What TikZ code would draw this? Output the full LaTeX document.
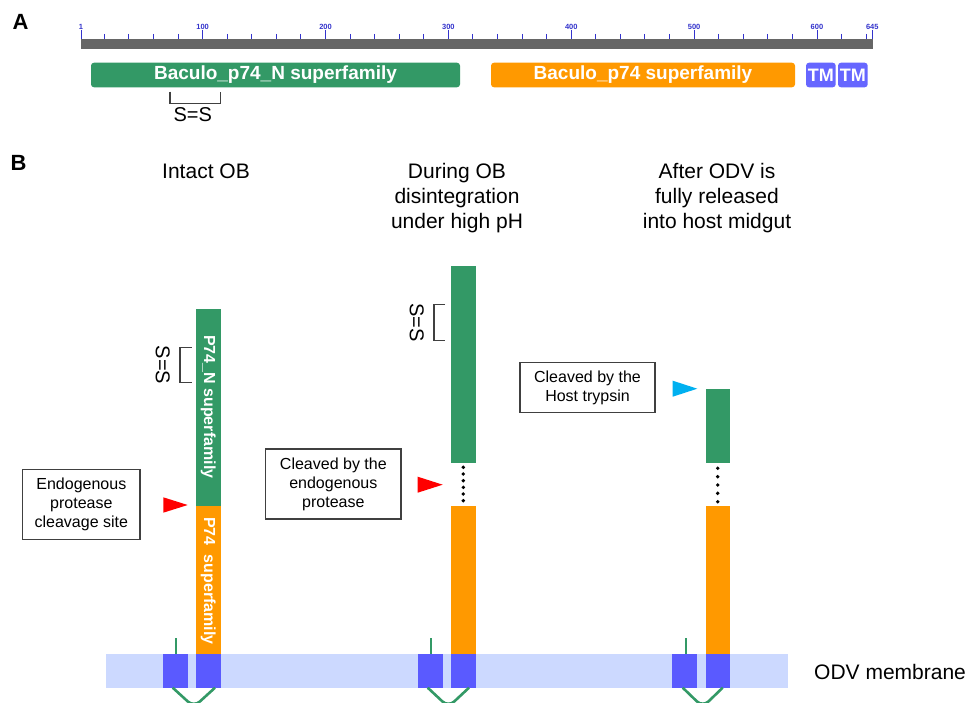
\documentclass[tikz,border=0pt]{standalone}
\usepackage{fontspec}
\setmainfont{Liberation Sans}
\definecolor{pgreen}{RGB}{51,153,102}
\definecolor{porange}{RGB}{255,153,0}
\definecolor{tmblue}{RGB}{102,102,255}
\definecolor{memblue}{RGB}{90,90,255}
\definecolor{memband}{RGB}{204,217,255}
\definecolor{rulergray}{RGB}{102,102,102}
\definecolor{tickblue}{RGB}{51,51,204}
\definecolor{cyanarrow}{RGB}{0,176,240}
\definecolor{darkline}{RGB}{64,64,64}
\newcommand\myfs[2]{\fontsize{#1}{#2}\selectfont}
\begin{document}
\begin{tikzpicture}[x=1pt,y=-1pt,
  tick/.style={draw=tickblue,line width=1pt},
  ticklab/.style={text=tickblue,font=\bfseries\myfs{7.5}{8},inner sep=0pt},
  dombox/.style={rounded corners=3pt},
  domlab/.style={text=white,font=\bfseries\myfs{19}{22},inner sep=0pt},
  tmlab/.style={text=white,font=\bfseries\myfs{18}{22},inner sep=0pt},
  bracketline/.style={draw=darkline,line width=1.2pt},
  sslab/.style={font=\myfs{20}{24},inner sep=0pt},
  heading/.style={font=\myfs{21}{25},align=center,inner sep=0pt},
  infobox/.style={draw=darkline,line width=1.2pt,fill=white,align=center,inner sep=0pt,font=\myfs{16}{19}},
  barlab/.style={text=white,font=\bfseries\myfs{16}{19},inner sep=0pt,rotate=-90,anchor=west},
  stub/.style={draw=pgreen,line width=2.4pt},
  loopline/.style={draw=pgreen,line width=2.6pt,rounded corners=8pt},
  panel/.style={font=\bfseries\myfs{22}{26},inner sep=0pt},
  dotc/.style={fill=black}
]
\useasboundingbox (0,0) rectangle (971,703);
\fill[white] (0,0) rectangle (971,703);

% ---------------- Panel A ----------------
\node[panel] (labA) at (20.5,21.5) {A};
\fill[rulergray] (81,39) rectangle (873,49);
\foreach \r in {20,40,...,640} {
  \pgfmathsetmacro\xx{81+(\r-1)*1.2287}
  \draw[tick] (\xx,34) -- (\xx,39);
}
\foreach \r in {1,100,200,300,400,500,600,645} {
  \pgfmathsetmacro\xx{81+(\r-1)*1.2287}
  \draw[tick] (\xx,30) -- (\xx,39);
  \node[ticklab] (t\r) at (\xx,26.5) {\r};
}
\fill[pgreen,dombox] (91,62.7) rectangle (460,87.3);
\node[domlab] (dN) at (275.5,75) {Baculo\_p74\_N superfamily};
\fill[porange,dombox] (491,62.7) rectangle (795,87.3);
\node[domlab] (dC) at (643,75) {Baculo\_p74 superfamily};
\fill[tmblue,dombox] (806,62.7) rectangle (835.7,87.3);
\node[tmlab] (tm1) at (820.85,75) {TM};
\fill[tmblue,dombox] (838,62.7) rectangle (867.7,87.3);
\node[tmlab] (tm2) at (852.85,75) {TM};
\draw[bracketline] (170,91.7) -- (170,103.3) -- (220.3,103.3) -- (220.3,91.7);
\node[sslab] (ssA) at (192.7,114.5) {S=S};

% ---------------- Panel B ----------------
\node[panel] (labB) at (18.5,163) {B};
\node[heading,anchor=north] (h1) at (206,163.5) {Intact OB};
\node[heading,anchor=north] (h2) at (457,163.5) {During OB\\disintegration\\under high pH};
\node[heading,anchor=north] (h3) at (717,163.5) {After ODV is\\fully released\\into host midgut};

% membrane band
\fill[memband] (106,654) rectangle (787.7,687.7);
\node[font=\myfs{21}{25},inner sep=0pt,anchor=west] (odv) at (814,671.7) {ODV membrane};

% column 1
\fill[pgreen] (196,309) rectangle (220.7,506);
\fill[porange] (196,506) rectangle (220.7,654);
\node[barlab] (pN1) at (208.35,335) {P74\_N superfamily};
\node[barlab] (pC1) at (208.35,517) {P74\hspace{9pt}superfamily};
\draw[bracketline] (191.7,347.3) -- (180,347.3) -- (180,382.7) -- (191.7,382.7);
\node[sslab,rotate=-90] (ss1) at (162.7,365) {S=S};
\fill[red] (163.3,497.3) -- (187.7,505) -- (163.3,512.7) -- cycle;
\node[infobox,minimum width=117.3pt,minimum height=70pt] (box1) at (81.35,504.3) {Endogenous\\protease\\cleavage site};

% column 2
\fill[pgreen] (451,266) rectangle (475.5,463.3);
\fill[porange] (451,506) rectangle (475.5,654);
\foreach \k in {0,...,5} { \fill[dotc] (463.3,467.3+\k*6.68) circle (1.9); }
\draw[bracketline] (445,304.3) -- (434,304.3) -- (434,340.7) -- (445,340.7);
\node[sslab,rotate=-90] (ss2) at (416.7,322.3) {S=S};
\fill[red] (417.7,476.7) -- (442.7,484.7) -- (417.7,492.7) -- cycle;
\node[infobox,minimum width=135.3pt,minimum height=70pt] (box2) at (333.35,484) {Cleaved by the\\endogenous\\protease};

% column 3
\fill[pgreen] (705.7,389.3) rectangle (730,463.3);
\fill[porange] (705.7,505.7) rectangle (730,654);
\foreach \k in {0,...,4} { \fill[dotc] (717.7,468.3+\k*8.35) circle (1.9); }
\fill[cyanarrow] (672.7,380.7) -- (697.3,388.7) -- (672.7,396.7) -- cycle;
\node[infobox,minimum width=135pt,minimum height=50.4pt] (box3) at (587.5,387.5) {Cleaved by the\\Host trypsin};

% transmembrane boxes, stubs and loops
\fill[memblue] (163.3,654) rectangle (187.7,687.7);
\fill[memblue] (196.3,654) rectangle (220.7,687.7);
\fill[memblue] (418.3,654) rectangle (442.7,687.7);
\fill[memblue] (451,654) rectangle (475.5,687.7);
\fill[memblue] (672.3,654) rectangle (697.3,687.7);
\fill[memblue] (705.7,654) rectangle (730,687.7);
\draw[stub] (176,638) -- (176,654);
\draw[stub] (431,638) -- (431,654);
\draw[stub] (685.7,638) -- (685.7,654);
\draw[loopline] (172.7,687.7) -- (193.85,707) -- (215,687.7);
\draw[loopline] (427.7,687.7) -- (448.35,707) -- (469,687.7);
\draw[loopline] (682.7,687.7) -- (702.7,707) -- (722.7,687.7);
\end{tikzpicture}
\end{document}
